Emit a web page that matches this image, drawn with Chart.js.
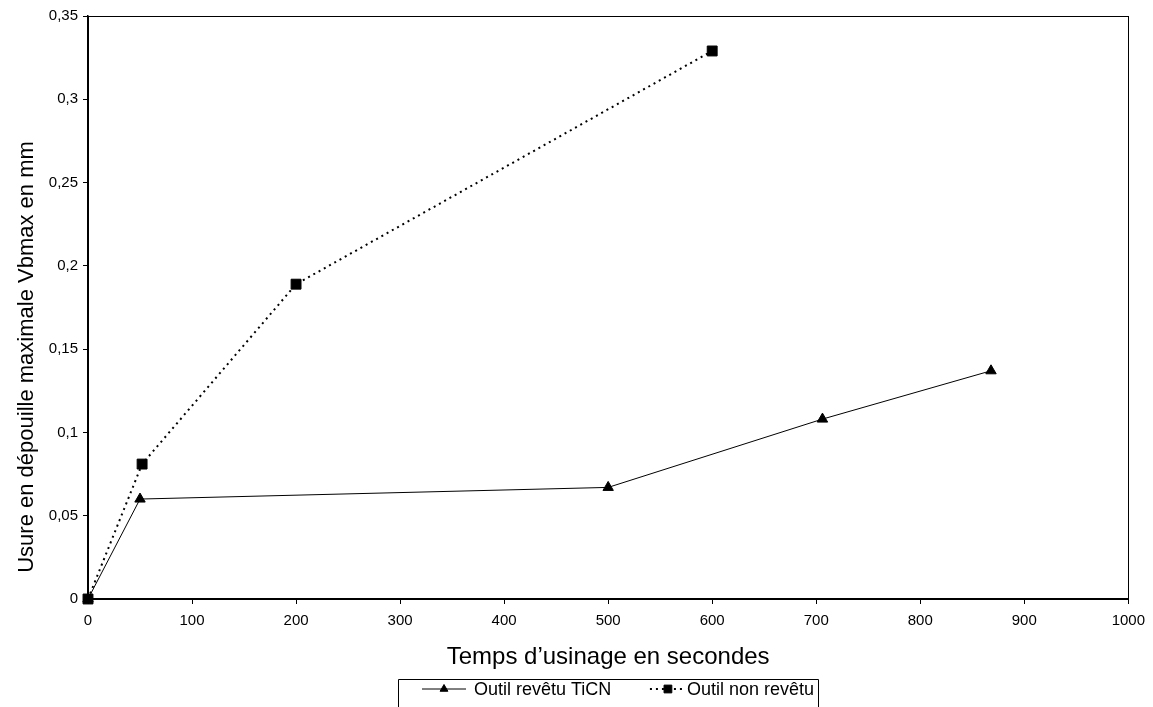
<!DOCTYPE html>
<html>
<head>
<meta charset="utf-8">
<script src="https://cdn.jsdelivr.net/npm/chart.js@4.4.1/dist/chart.umd.min.js"></script>
<style>
    html, body { margin: 0; padding: 0; background: #fff; }
    #wrap { width: 1153px; height: 707px; }
</style>
</head>
<body>
<div id="wrap"><canvas id="wearChart" width="1153" height="707"></canvas></div>
<script>
    // Data
    const coatedTime = [0, 50, 500, 706, 868];
    const coatedWear = [0, 0.06, 0.067, 0.108, 0.137];
    const uncoatedTime = [0, 52, 200, 600];
    const uncoatedWear = [0, 0.081, 0.189, 0.329];
    const seriesNames = ['Outil revêtu TiCN', 'Outil non revêtu'];

    const xTickValues = [0, 100, 200, 300, 400, 500, 600, 700, 800, 900, 1000];
    const yTickValues = [0, 0.05, 0.1, 0.15, 0.2, 0.25, 0.3, 0.35];
    const yTickLabels = ['0', '0,05', '0,1', '0,15', '0,2', '0,25', '0,3', '0,35'];
    const yTitle = 'Usure en dépouille maximale Vbmax en mm';

    const FONT = '"Liberation Sans", Arial, sans-serif';

    const toPoints = (xs, ys) => xs.map((x, i) => ({ x: x, y: ys[i] }));

    // box around the plot area (top and right sides)
    const frame = {
        id: 'frame',
        beforeDatasetsDraw(chart) {
            const { ctx, chartArea: a } = chart;
            ctx.save();
            ctx.strokeStyle = '#000';
            ctx.lineWidth = 1;
            ctx.strokeRect(Math.round(a.left) + 0.5, Math.round(a.top) + 0.5,
                Math.round(a.right - a.left), Math.round(a.bottom - a.top));
            ctx.restore();
        }
    };

    // y title sits lower than the plot centre, as in the excel export
    const sideTitle = {
        id: 'sideTitle',
        afterDraw(chart) {
            const ctx = chart.ctx;
            ctx.save();
            ctx.translate(27, 357);
            ctx.rotate(-Math.PI / 2);
            ctx.font = '22px ' + FONT;
            ctx.fillStyle = '#000';
            ctx.textAlign = 'center';
            ctx.textBaseline = 'middle';
            ctx.fillText(yTitle, 0, 0);
            ctx.restore();
        }
    };

    // legend in a box, line + marker symbols
    const boxLegend = {
        id: 'boxLegend',
        afterDraw(chart) {
            const ctx = chart.ctx;
            ctx.save();
            ctx.font = '18px ' + FONT;
            const left = 398, right = 818, top = 679, y = 689;
            const symW = [44, 36], gap = [8, 1];
            ctx.strokeStyle = '#000';
            ctx.fillStyle = '#000';
            ctx.lineWidth = 1;
            ctx.beginPath();
            ctx.moveTo(left + 0.5, 720);
            ctx.lineTo(left + 0.5, top + 0.5);
            ctx.lineTo(right + 0.5, top + 0.5);
            ctx.lineTo(right + 0.5, 720);
            ctx.stroke();
            const ds = chart.data.datasets;
            // first item from the left, second item flush to the right border
            const w2 = ctx.measureText(ds[1].label).width;
            const xs = [left + 24, right - 4 - w2 - gap[1] - symW[1]];
            ds.forEach((d, i) => {
                const x = xs[i];
                ctx.beginPath();
                ctx.setLineDash(d.borderDash || []);
                ctx.lineWidth = d.borderWidth;
                ctx.moveTo(x, y);
                ctx.lineTo(x + symW[i], y);
                ctx.stroke();
                ctx.setLineDash([]);
                ctx.lineWidth = 1;
                Chart.helpers.drawPoint(ctx, {
                    pointStyle: d.pointStyle,
                    radius: d.pointRadius - 1.5,
                    borderWidth: 1,
                    rotation: 0
                }, x + symW[i] / 2, y);
                ctx.textBaseline = 'alphabetic';
                ctx.fillText(d.label, x + symW[i] + gap[i], 695);
            });
            ctx.restore();
        }
    };

    const ctx = document.getElementById('wearChart').getContext('2d');
    const wearChart = new Chart(ctx, {
        type: 'line',
        data: {
            datasets: [{
                label: seriesNames[0],
                data: toPoints(coatedTime, coatedWear),
                borderColor: '#000',
                backgroundColor: '#000',
                borderWidth: 1,
                pointStyle: 'triangle',
                pointRadius: 6,
                pointBorderWidth: 1,
                tension: 0
            }, {
                label: seriesNames[1],
                data: toPoints(uncoatedTime, uncoatedWear),
                borderColor: '#000',
                backgroundColor: '#000',
                borderWidth: 2,
                borderDash: [2, 4],
                pointStyle: 'rect',
                pointRadius: 7,
                pointBorderWidth: 1,
                tension: 0
            }]
        },
        options: {
            responsive: false,
            animation: false,
            clip: false,
            layout: { padding: { left: 0, right: 23, top: 16, bottom: 35 } },
            plugins: {
                legend: { display: false },
                tooltip: { enabled: false }
            },
            scales: {
                x: {
                    type: 'linear',
                    min: 0,
                    max: 1000,
                    afterBuildTicks: s => { s.ticks = xTickValues.map(v => ({ value: v })); },
                    afterFit: s => { s.height = 73; },
                    ticks: {
                        color: '#000',
                        font: { family: FONT, size: 15 },
                        padding: 8,
                        maxRotation: 0,
                        callback: v => String(v)
                    },
                    grid: { drawOnChartArea: false, drawTicks: true, tickLength: 5, color: '#000' },
                    border: { display: true, color: '#000', width: 2 },
                    title: {
                        display: true,
                        text: 'Temps d’usinage en secondes',
                        color: '#000',
                        font: { family: FONT, size: 24 },
                        padding: { top: 0, bottom: 0 }
                    }
                },
                y: {
                    type: 'linear',
                    min: 0,
                    max: 0.35,
                    afterBuildTicks: s => { s.ticks = yTickValues.map(v => ({ value: v })); },
                    afterFit: s => { s.width = 88; },
                    ticks: {
                        color: '#000',
                        font: { family: FONT, size: 15 },
                        padding: 5,
                        callback: (v, i) => yTickLabels[i]
                    },
                    grid: { drawOnChartArea: false, drawTicks: true, tickLength: 5, color: '#000' },
                    border: { display: true, color: '#000', width: 1.5 },
                    title: { display: false }
                }
            }
        },
        plugins: [frame, sideTitle, boxLegend]
    });
</script>
</body>
</html>
